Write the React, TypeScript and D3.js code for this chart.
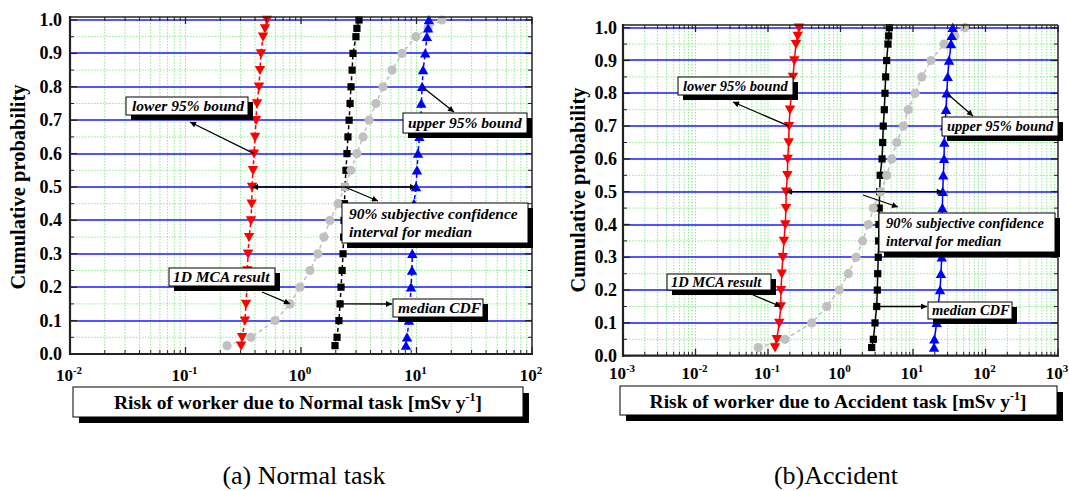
import React from 'react';
import * as d3 from 'd3';

// ---------- data ----------
const probLevels = [0.025, 0.05, 0.1, 0.15, 0.2, 0.25, 0.3, 0.35, 0.4, 0.45, 0.5, 0.55, 0.6, 0.65, 0.7, 0.75, 0.8, 0.85, 0.9, 0.95, 0.975, 1.0];
const yTickValues = [0, 0.1, 0.2, 0.3, 0.4, 0.5, 0.6, 0.7, 0.8, 0.9, 1.0];
const yTickLabels = ['0.0', '0.1', '0.2', '0.3', '0.4', '0.5', '0.6', '0.7', '0.8', '0.9', '1.0'];
const yMinorValues = [0.05, 0.15, 0.25, 0.35, 0.45, 0.55, 0.65, 0.75, 0.85, 0.95];
const normalDecades = [-2, -1, 0, 1, 2];
const accidentDecades = [-3, -2, -1, 0, 1, 2, 3];

// (a) Normal task
const normalLower = [0.303, 0.309, 0.327, 0.334, 0.340, 0.343, 0.348, 0.355, 0.369, 0.374, 0.377, 0.384, 0.392, 0.400, 0.408, 0.416, 0.433, 0.441, 0.450, 0.469, 0.488, 0.508];
const normalMedian = [1.97, 2.05, 2.13, 2.18, 2.22, 2.27, 2.31, 2.34, 2.36, 2.38, 2.40, 2.45, 2.50, 2.55, 2.61, 2.66, 2.71, 2.77, 2.82, 2.99, 3.05, 3.18];
const normalUpper = [8.11, 8.28, 8.61, 8.80, 8.96, 9.14, 9.20, 9.30, 9.40, 9.51, 9.90, 10.1, 10.3, 10.6, 10.9, 11.0, 11.2, 11.4, 11.9, 12.3, 12.6, 12.8];
const normalMCA = [0.229, 0.369, 0.596, 0.804, 0.98, 1.197, 1.40, 1.58, 1.78, 2.09, 2.40, 2.71, 3.05, 3.44, 3.88, 4.46, 5.13, 6.14, 7.49, 9.90, 12.6, 16.6];

// (b) Accident
const accLower = [0.125, 0.132, 0.143, 0.150, 0.151, 0.155, 0.160, 0.166, 0.173, 0.177, 0.178, 0.185, 0.187, 0.193, 0.195, 0.201, 0.211, 0.221, 0.231, 0.243, 0.257, 0.268];
const accMedian = [2.69, 2.84, 2.99, 3.16, 3.22, 3.26, 3.32, 3.36, 3.39, 3.42, 3.47, 3.53, 3.74, 3.82, 3.89, 4.02, 4.11, 4.20, 4.33, 4.52, 4.62, 4.71];
const accUpper = [19.5, 19.7, 21.2, 22.1, 23.6, 24.3, 24.9, 25.0, 25.2, 25.4, 25.7, 26.2, 26.8, 27.0, 27.6, 28.5, 29.2, 30.1, 31.4, 33.5, 34.2, 35.3];
const accMCA = [0.0734, 0.172, 0.401, 0.645, 0.962, 1.28, 1.64, 2.02, 2.42, 2.83, 3.58, 4.34, 5.08, 5.96, 7.35, 8.61, 10.7, 13.2, 17.7, 26.8, 37.9, 52.1];

const serif = "'Liberation Serif', 'Times New Roman', Times, serif";

type End = [number, number] | { s: string; p: number };
type Note = { box: [number, number, number, number]; lines: string[]; tx: number; ty: number[] };
type Arrow = { from: End; to: End; both?: boolean };

type Cfg = {
  id: string;
  decades: number[];
  left: number; right: number; bottom: number; top1: number; frameTop: number;
  dashed: boolean;
  lower: number[]; median: number[]; upper: number[]; mca: number[];
  yLabelRight: number;
  xLabelBaseline: number;
  yTitle: [number, number];
  xTitleBox: [number, number, number, number];
  xTitleText: string;
  xTitleCenter: number;
  xTitleBaseline: number;
  noteFont: number;
  notes: Note[];
  arrows: Arrow[];
};

const normalCfg: Cfg = {
  id: 'n',
  decades: normalDecades,
  left: 70, right: 532, bottom: 354, top1: 20, frameTop: 17,
  dashed: true,
  lower: normalLower, median: normalMedian, upper: normalUpper, mca: normalMCA,
  yLabelRight: 62,
  xLabelBaseline: 381,
  yTitle: [25, 187],
  xTitleBox: [73, 387, 450, 30],
  xTitleText: 'Normal',
  xTitleCenter: 298,
  xTitleBaseline: 409,
  noteFont: 15.5,
  notes: [
    { box: [126, 97, 122, 18], lines: ['lower 95% bound'], tx: 132, ty: [111] },
    { box: [403, 113, 124, 20], lines: ['upper 95% bound'], tx: 408, ty: [128] },
    { box: [342, 203, 186, 40], lines: ['90% subjective confidence', 'interval for median'], tx: 349, ty: [219, 237] },
    { box: [169, 268, 106, 18], lines: ['1D MCA result'], tx: 173, ty: [282] },
    { box: [393, 299, 90, 18], lines: ['median CDF'], tx: 398, ty: [313] },
  ],
  arrows: [
    { from: { s: 'lower', p: 0.6 }, to: [190, 122] },
    { from: { s: 'upper', p: 0.8 }, to: [454, 112] },
    { from: { s: 'mca', p: 0.5 }, to: [378, 201] },
    { from: [262, 292], to: { s: 'mca', p: 0.15 } },
    { from: { s: 'median', p: 0.15 }, to: [392, 304] },
    { from: { s: 'lower', p: 0.5 }, to: { s: 'upper', p: 0.5 }, both: true },
  ],
};

const accidentCfg: Cfg = {
  id: 'a',
  decades: accidentDecades,
  left: 623, right: 1058, bottom: 355.7, top1: 27.7, frameTop: 25,
  dashed: false,
  lower: accLower, median: accMedian, upper: accUpper, mca: accMCA,
  yLabelRight: 617,
  xLabelBaseline: 379,
  yTitle: [585, 190],
  xTitleBox: [620, 386, 437, 29],
  xTitleText: 'Accident',
  xTitleCenter: 838,
  xTitleBaseline: 408,
  noteFont: 14.5,
  notes: [
    { box: [678, 77, 115, 18], lines: ['lower 95% bound'], tx: 683, ty: [91] },
    { box: [942, 117, 116, 19], lines: ['upper 95% bound'], tx: 947, ty: [131] },
    { box: [879, 213, 176, 39], lines: ['90% subjective confidence', 'interval for median'], tx: 886, ty: [228, 246] },
    { box: [667, 274, 104, 16], lines: ['1D MCA result'], tx: 671, ty: [287] },
    { box: [928, 302, 84, 17], lines: ['median CDF'], tx: 932, ty: [315] },
  ],
  arrows: [
    { from: { s: 'lower', p: 0.7 }, to: [733, 102] },
    { from: { s: 'upper', p: 0.8 }, to: [973, 116] },
    { from: [863, 195], to: [898, 207] },
    { from: [753, 295], to: { s: 'lower', p: 0.15 } },
    { from: { s: 'median', p: 0.15 }, to: [927, 306.5] },
    { from: { s: 'lower', p: 0.5 }, to: { s: 'upper', p: 0.5 }, both: true },
  ],
};

function Chart({ cfg }: { cfg: Cfg }) {
  const lo = cfg.decades[0];
  const hi = cfg.decades[cfg.decades.length - 1];
  const x = d3.scaleLog().domain([Math.pow(10, lo), Math.pow(10, hi)]).range([cfg.left, cfg.right]);
  const y = d3.scaleLinear().domain([0, 1]).range([cfg.bottom, cfg.top1]);
  const ft = cfg.frameTop;

  const minorX: number[] = [];
  for (let d = lo; d < hi; d++) for (let k = 2; k <= 9; k++) minorX.push(k * Math.pow(10, d));
  const majorX = cfg.decades.map((d) => Math.pow(10, d));

  const seriesMap: Record<string, number[]> = { lower: cfg.lower, median: cfg.median, upper: cfg.upper, mca: cfg.mca };
  const pt = (e: End): [number, number] => {
    if (Array.isArray(e)) return e;
    const i = probLevels.indexOf(e.p);
    return [x(seriesMap[e.s][i]), y(e.p)];
  };

  const line = (vals: number[]) =>
    d3.line<number>().x((v) => x(v)).y((_, i) => y(probLevels[i]))(vals) || '';

  const series = [
    { key: 'median', vals: cfg.median, color: '#000000', marker: 'square', dash: cfg.dashed },
    { key: 'mca', vals: cfg.mca, color: '#c0c0c0', marker: 'circle', dash: true },
    { key: 'lower', vals: cfg.lower, color: '#ff0000', marker: 'down', dash: cfg.dashed },
    { key: 'upper', vals: cfg.upper, color: '#0000ff', marker: 'up', dash: cfg.dashed },
  ];

  const marker = (m: string, cx: number, cy: number, color: string, k: number) => {
    if (m === 'square') return <rect key={k} x={cx - 3.6} y={cy - 3.6} width={7.2} height={7.2} fill={color} />;
    if (m === 'circle') return <circle key={k} cx={cx} cy={cy} r={4.6} fill={color} />;
    if (m === 'down') return <path key={k} d={`M${cx - 5.2},${cy - 4.2}L${cx + 5.2},${cy - 4.2}L${cx},${cy + 5}Z`} fill={color} />;
    return <path key={k} d={`M${cx - 5.2},${cy + 4.2}L${cx + 5.2},${cy + 4.2}L${cx},${cy - 5}Z`} fill={color} />;
  };

  const [bx, by, bw, bh] = cfg.xTitleBox;

  return (
    <g>
      {/* green dotted grid */}
      {minorX.concat(majorX.slice(1, -1)).map((v, i) => (
        <line key={'gx' + i} x1={x(v)} x2={x(v)} y1={ft} y2={cfg.bottom} stroke="#8fe88f" strokeWidth={1} strokeDasharray="1.5,1.5" />
      ))}
      {yMinorValues.map((v, i) => (
        <line key={'gy' + i} x1={cfg.left} x2={cfg.right} y1={y(v)} y2={y(v)} stroke="#8fe88f" strokeWidth={1} strokeDasharray="1.5,1.5" />
      ))}
      {/* blue major horizontal grid */}
      {yTickValues.slice(1).map((v, i) => (
        <line key={'by' + i} x1={cfg.left} x2={cfg.right} y1={Math.round(y(v))} y2={Math.round(y(v))} stroke="#1a1aff" strokeWidth={1.6} />
      ))}

      {/* series lines */}
      {series.map((s) => (
        <path key={'l' + s.key} d={line(s.vals)} fill="none" stroke={s.color} strokeWidth={1.5} strokeDasharray={s.dash ? '4,3' : undefined} />
      ))}
      {/* markers */}
      {series.map((s) => (
        <g key={'m' + s.key}>{s.vals.map((v, i) => marker(s.marker, x(v), y(probLevels[i]), s.color, i))}</g>
      ))}

      {/* frame */}
      <line x1={cfg.left} x2={cfg.right} y1={ft} y2={ft} stroke="#222" strokeWidth={1.5} />
      <line x1={cfg.right} x2={cfg.right} y1={ft} y2={cfg.bottom} stroke="#222" strokeWidth={1.5} />
      <line x1={cfg.left} x2={cfg.left} y1={ft - 1} y2={cfg.bottom + 1} stroke="#222" strokeWidth={2.2} />
      <line x1={cfg.left - 1} x2={cfg.right + 1} y1={cfg.bottom} y2={cfg.bottom} stroke="#222" strokeWidth={2.2} />

      {/* x ticks (bottom & top, inward) */}
      {minorX.map((v, i) => (
        <g key={'tx' + i}>
          <line x1={x(v)} x2={x(v)} y1={cfg.bottom} y2={cfg.bottom - 4} stroke="#222" strokeWidth={1} />
          <line x1={x(v)} x2={x(v)} y1={ft} y2={ft + 4} stroke="#222" strokeWidth={1} />
        </g>
      ))}
      {majorX.map((v, i) => (
        <g key={'tX' + i}>
          <line x1={x(v)} x2={x(v)} y1={cfg.bottom} y2={cfg.bottom - 7} stroke="#222" strokeWidth={1.3} />
          <line x1={x(v)} x2={x(v)} y1={ft} y2={ft + 7} stroke="#222" strokeWidth={1.3} />
        </g>
      ))}
      {/* y ticks (left & right, inward) */}
      {yMinorValues.map((v, i) => (
        <g key={'ty' + i}>
          <line x1={cfg.left} x2={cfg.left + 4} y1={y(v)} y2={y(v)} stroke="#222" strokeWidth={1} />
          <line x1={cfg.right} x2={cfg.right - 4} y1={y(v)} y2={y(v)} stroke="#222" strokeWidth={1} />
        </g>
      ))}
      {yTickValues.map((v, i) => (
        <g key={'tY' + i}>
          <line x1={cfg.left} x2={cfg.left + 7} y1={y(v)} y2={y(v)} stroke="#222" strokeWidth={1.3} />
          <line x1={cfg.right} x2={cfg.right - 7} y1={y(v)} y2={y(v)} stroke="#222" strokeWidth={1.3} />
        </g>
      ))}

      {/* y tick labels */}
      {yTickValues.map((v, i) => (
        <text key={'yl' + i} x={cfg.yLabelRight} y={y(v) + 6} textAnchor="end" fontFamily={serif} fontWeight="bold" fontSize={18}>
          {yTickLabels[i]}
        </text>
      ))}
      {/* x tick labels */}
      {cfg.decades.map((d, i) => (
        <text key={'xl' + i} x={x(Math.pow(10, d)) - 1} y={cfg.xLabelBaseline} textAnchor="middle" fontFamily={serif} fontWeight="bold" fontSize={17}>
          10<tspan dy={-7} fontSize={11}>{String(d)}</tspan>
        </text>
      ))}

      {/* y title */}
      <text transform={`translate(${cfg.yTitle[0]},${cfg.yTitle[1]}) rotate(-90)`} textAnchor="middle" fontFamily={serif} fontWeight="bold" fontSize={20.5}>
        Cumulative probability
      </text>

      {/* x title box */}
      <rect x={bx + 6} y={by + 6} width={bw} height={bh} fill="#000" />
      <rect x={bx} y={by} width={bw} height={bh} fill="#fff" stroke="#000" strokeWidth={1} />
      <text x={cfg.xTitleCenter} y={cfg.xTitleBaseline} textAnchor="middle" fontFamily={serif} fontWeight="bold" fontSize={19.5}>
        {`Risk of worker due to ${cfg.xTitleText} task [mSv y`}
        <tspan dy={-8} fontSize={12}>-1</tspan>
        <tspan dy={8}>]</tspan>
      </text>

      {/* annotation boxes */}
      {cfg.notes.map((n, i) => (
        <g key={'n' + i}>
          <rect x={n.box[0] + 5} y={n.box[1] + 5} width={n.box[2]} height={n.box[3]} fill="#000" />
          <rect x={n.box[0]} y={n.box[1]} width={n.box[2]} height={n.box[3]} fill="#fff" stroke="#000" strokeWidth={1} />
          {n.lines.map((t, j) => (
            <text key={j} x={n.tx} y={n.ty[j]} fontFamily={serif} fontWeight="bold" fontStyle="italic" fontSize={cfg.noteFont}>
              {t}
            </text>
          ))}
        </g>
      ))}

      {/* arrows */}
      {cfg.arrows.map((a, i) => {
        const f = pt(a.from);
        const t = pt(a.to);
        return (
          <line key={'a' + i} x1={f[0]} y1={f[1]} x2={t[0]} y2={t[1]} stroke="#000" strokeWidth={1.3}
            markerEnd={`url(#arrowhead)`} markerStart={a.both ? `url(#arrowhead)` : undefined} />
        );
      })}
    </g>
  );
}

export default function App() {
  return (
    <svg width={1069} height={491} viewBox="0 0 1069 491" style={{ position: 'absolute', left: 0, top: 0, background: '#fff' }}>
      <defs>
        <marker id="arrowhead" viewBox="0 0 10 10" refX={10} refY={5} markerWidth={9} markerHeight={6}
          markerUnits="userSpaceOnUse" orient="auto-start-reverse">
          <path d="M0,0L10,5L0,10Z" fill="#000" />
        </marker>
      </defs>
      <rect x={0} y={0} width={1069} height={491} fill="#fff" />
      <Chart cfg={normalCfg} />
      <Chart cfg={accidentCfg} />
      <text x={304} y={484} textAnchor="middle" fontFamily={serif} fontSize={26}>(a) Normal task</text>
      <text x={836} y={484} textAnchor="middle" fontFamily={serif} fontSize={26}>(b)Accident</text>
    </svg>
  );
}
